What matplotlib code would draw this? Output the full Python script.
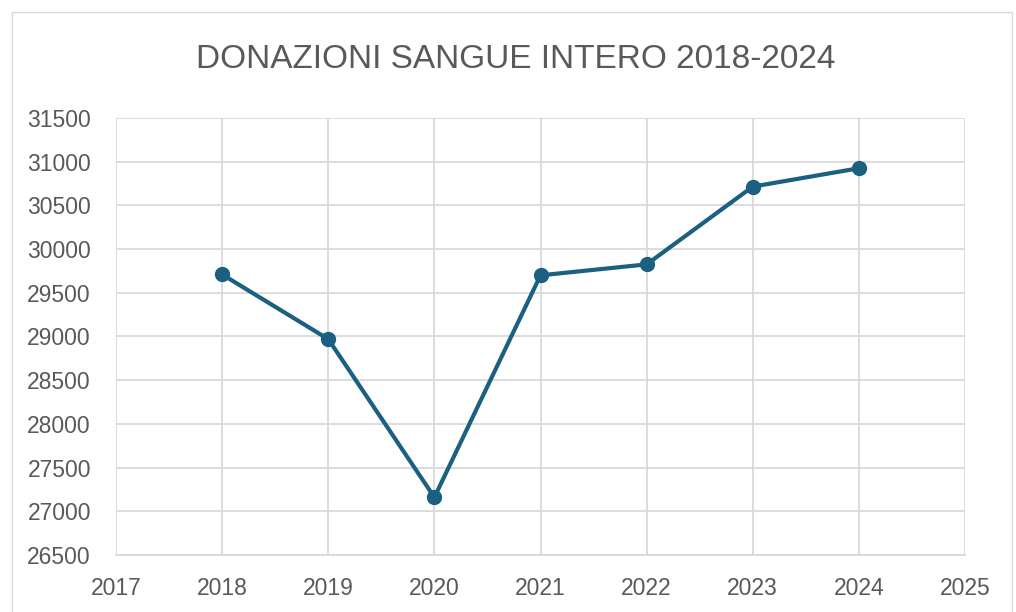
import matplotlib.pyplot as plt
from matplotlib.patches import Rectangle

years = [2018, 2019, 2020, 2021, 2022, 2023, 2024]
donazioni = [29710, 28970, 27160, 29700, 29825, 30715, 30925]
x_ticks = list(range(2017, 2026))
y_ticks = list(range(26500, 31501, 500))

fig = plt.figure(figsize=(10.16, 6.12), dpi=100)
ax = fig.add_axes([116/1016, 1 - 555/612, (965-116)/1016, (555-118)/612])

ax.plot(years, donazioni, color="#1b6080", lw=3, marker="o", ms=10, zorder=3)

ax.set_xlim(2017, 2025)
ax.set_ylim(26500, 31500)
ax.set_xticks(x_ticks)
ax.set_yticks(y_ticks)
ax.grid(color="#d9d9d9", lw=1.3)
for s in ax.spines.values():
    s.set_visible(False)
ax.spines["bottom"].set_visible(True)
ax.spines["bottom"].set_color("#d9d9d9")
ax.spines["bottom"].set_linewidth(1.3)
ax.tick_params(length=0, labelsize=16.5, labelcolor="#595959")
ax.tick_params(axis="x", pad=16)
ax.tick_params(axis="y", pad=18)
for lab in ax.get_xticklabels() + ax.get_yticklabels():
    lab.set_family(["Liberation Sans", "DejaVu Sans"])

fig.text(0.508, 1 - 59/612, "DONAZIONI SANGUE INTERO 2018-2024", ha="center", va="center",
         fontsize=24, color="#595959", family=["Liberation Sans", "DejaVu Sans"])

fig.patches.append(Rectangle((12/1016, -0.1), (1012-12)/1016, 1.1 - 12/612,
                             transform=fig.transFigure, fill=False, ec="#d9d9d9", lw=1))

fig.savefig("out.png", dpi=100)
